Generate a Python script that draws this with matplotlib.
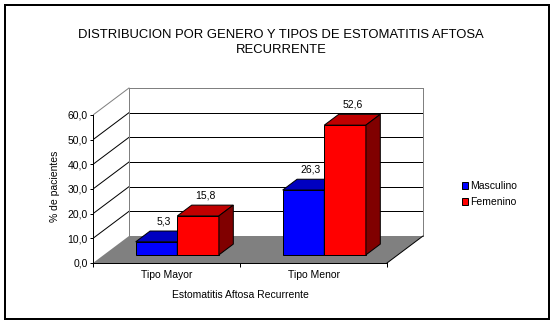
import matplotlib.pyplot as plt
from matplotlib.patches import Polygon, Rectangle
from matplotlib.ticker import FuncFormatter

plt.rcParams['font.family'] = ['Liberation Sans', 'DejaVu Sans']

# data
categories = ['Tipo Mayor', 'Tipo Menor']
series = ['Masculino', 'Femenino']
masculino = [5.3, 26.3]
femenino = [15.8, 52.6]
yticks = [0, 10, 20, 30, 40, 50, 60]

front_cols = ['#0000ff', '#ff0000']
top_cols = ['#0000c0', '#c00000']
side_cols = ['#000080', '#800000']

W, H = 551, 323
fig = plt.figure(figsize=(W / 100, H / 100), dpi=100)

# front plane of the fake 3d box, in pixels
px_left, px_right, px_bot, px_top = 93, 425, 263, 85
px_per_cat = 147
px_per_unit = 148 / 60
xmax = -0.5 + (px_right - px_left) / px_per_cat
ymax = (px_bot - px_top) / px_per_unit
ax = fig.add_axes([px_left / W, (H - px_bot) / H,
                   (px_right - px_left) / W, (px_bot - px_top) / H])
ax.set_xlim(-0.5, xmax)
ax.set_ylim(0, ymax)

# depth of the box in data units
DX = 36 / px_per_cat
DY = 27 / px_per_unit
F0, F1 = 0.3, 0.7          # bars sit between these depth fractions
lw = 0.72
x_lo, x_hi = -0.5, len(categories) - 0.5
top = yticks[-1]

# floor
ax.add_patch(Polygon([(x_lo, 0), (x_hi, 0), (x_hi + DX, DY), (x_lo + DX, DY)],
                     closed=True, facecolor='#808080', edgecolor='none', zorder=1))
ax.plot([x_hi, x_hi + DX], [0, DY], color='black', lw=lw, zorder=2)

# walls and gridlines
for v in yticks[1:-1]:
    ax.plot([x_lo + DX, x_hi + DX], [v + DY, v + DY], color='black', lw=lw, zorder=1)
    ax.plot([x_lo, x_lo + DX], [v, v + DY], color='black', lw=lw, zorder=1)
ax.plot([x_lo + DX, x_hi + DX], [top + DY, top + DY], color='#808080', lw=lw, zorder=1)
ax.plot([x_lo, x_lo + DX], [top, top + DY], color='#808080', lw=lw, zorder=1)
ax.plot([x_lo + DX, x_lo + DX], [DY, top + DY], color='#808080', lw=lw, zorder=1)
ax.plot([x_hi + DX, x_hi + DX], [DY, top + DY], color='#808080', lw=lw, zorder=1)

# bars
bw = 0.283
dx, dy = (F1 - F0) * DX, (F1 - F0) * DY
base = F0 * DY
handles = []
for s, vals in enumerate([masculino, femenino]):
    lefts = [i - bw + s * bw + F0 * DX for i in range(len(categories))]
    b = ax.bar(lefts, vals, width=bw, bottom=base, align='edge',
               color=front_cols[s], edgecolor='black', linewidth=lw,
               zorder=3 + s, label=series[s])
    handles.append(b)
    for l, v in zip(lefts, vals):
        t = base + v
        ax.add_patch(Polygon([(l, t), (l + bw, t), (l + bw + dx, t + dy), (l + dx, t + dy)],
                             closed=True, facecolor=top_cols[s], edgecolor='black',
                             linewidth=lw, zorder=3 + s))
        ax.add_patch(Polygon([(l + bw, base), (l + bw + dx, base + dy),
                              (l + bw + dx, t + dy), (l + bw, t)],
                             closed=True, facecolor=side_cols[s], edgecolor='black',
                             linewidth=lw, zorder=3 + s))
        ax.text(l + bw / 2 + dx / 2, t + dy + 3.9, f'{v:.1f}'.replace('.', ','),
                ha='center', va='center', fontsize=7.5, zorder=6)

# axes
for side in ['top', 'right']:
    ax.spines[side].set_visible(False)
ax.spines['left'].set_bounds(0, top)
ax.spines['bottom'].set_bounds(x_lo, x_hi)
ax.spines['left'].set_linewidth(lw)
ax.spines['bottom'].set_linewidth(lw)
ax.spines['left'].set_zorder(7)
ax.spines['bottom'].set_zorder(7)
ax.set_yticks(yticks)
ax.yaxis.set_major_formatter(FuncFormatter(lambda v, p: f'{v:.1f}'.replace('.', ',')))
ax.tick_params(axis='y', direction='out', length=2.2, width=lw, pad=1.5, labelsize=7.5)
ax.set_xticks([x_lo, 0.5, x_hi])
ax.set_xticklabels([])
ax.set_xticks(range(len(categories)), minor=True)
ax.set_xticklabels(categories, minor=True)
ax.tick_params(axis='x', which='major', direction='out', length=2.9, width=lw)
ax.tick_params(axis='x', which='minor', length=0, pad=5, labelsize=7.5)

ax.set_xlabel('Estomatitis Aftosa Recurrente', fontsize=7.5)
ax.xaxis.set_label_coords((0.5 - x_lo) / (xmax - x_lo), -0.15)
ax.set_ylabel('% de pacientes', fontsize=7.5)
ax.yaxis.set_label_coords(-0.1, 0.4326)

fig.text(281 / W, 1 - 42.5 / H,
         'DISTRIBUCION POR GENERO Y TIPOS DE ESTOMATITIS AFTOSA\nRECURRENTE',
         ha='center', va='center', fontsize=9.4, linespacing=1.3)

fig.legend(handles=handles, labels=series, loc='center left',
           bbox_to_anchor=(462 / W, 1 - 194 / H), frameon=False, fontsize=7.5,
           handlelength=0.6, handleheight=0.6, handletextpad=0.15,
           labelspacing=0.6, borderpad=0, borderaxespad=0)

fig.patches.append(Rectangle((5 / W, 4 / H), 544 / W, 314 / H, transform=fig.transFigure,
                             fill=False, edgecolor='black', linewidth=1.44))

fig.savefig('out.png', dpi=100)
